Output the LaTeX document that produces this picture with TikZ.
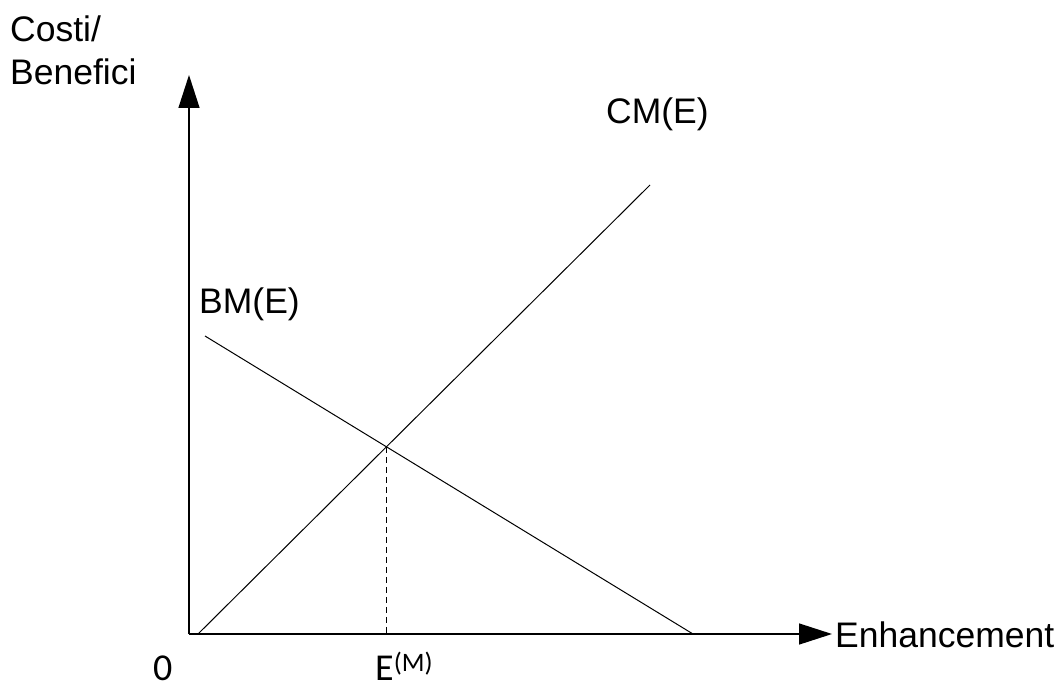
\documentclass[tikz,border=0pt]{standalone}
\usepackage{fontspec}
\setmainfont{Liberation Sans}
\newfontfamily\carl{Carlito}
\usetikzlibrary{arrows.meta}
\begin{document}
\begin{tikzpicture}[x=1bp,y=-1bp,
  axisline/.style={line width=1.4bp,-{Triangle[length=33bp,width=21bp]}},
  curveline/.style={line width=1bp},
  guideline/.style={line width=1bp,dash pattern=on 6bp off 4bp},
  lbl/.style={inner sep=0pt,anchor=base west,font=\fontsize{35.5bp}{40bp}\selectfont},
  lblb/.style={inner sep=0pt,anchor=base west,text depth=0pt,font=\carl\fontsize{38bp}{42bp}\selectfont}]
\useasboundingbox (0,0) rectangle (1059,690);
\fill[white] (0,0) rectangle (1059,690);
\coordinate (O) at (189,634);
\coordinate (ytip) at (189,75);
\coordinate (xtip) at (832,634);
\coordinate (cm1) at (198,634);
\coordinate (cm2) at (650,185);
\coordinate (bm1) at (205,336);
\coordinate (bm2) at (693,634);
\coordinate (I) at (intersection of cm1--cm2 and bm1--bm2);
\coordinate (Ifoot) at (I |- O);
\draw[axisline] (O) -- (ytip);
\draw[axisline] (O) -- (xtip);
\draw[curveline] (cm1) -- (cm2);
\draw[curveline] (bm1) -- (bm2);
\draw[guideline] (I) -- (Ifoot);
\node[lbl] (ylab1) at (10,42) {Costi/};
\node[lbl] (ylab2) at (10,85) {Benefici};
\node[lbl] (xlab) at (835,647) {Enhancement};
\node[lbl] (cmlab) at (606,124) {CM(E)};
\node[lbl] (bmlab) at (199,313) {BM(E)};
\node[lblb] (zero) at (153,680) {0};
\node[lblb] (em) at (375,680) {E\textsuperscript{(M)}};
\end{tikzpicture}
\end{document}
